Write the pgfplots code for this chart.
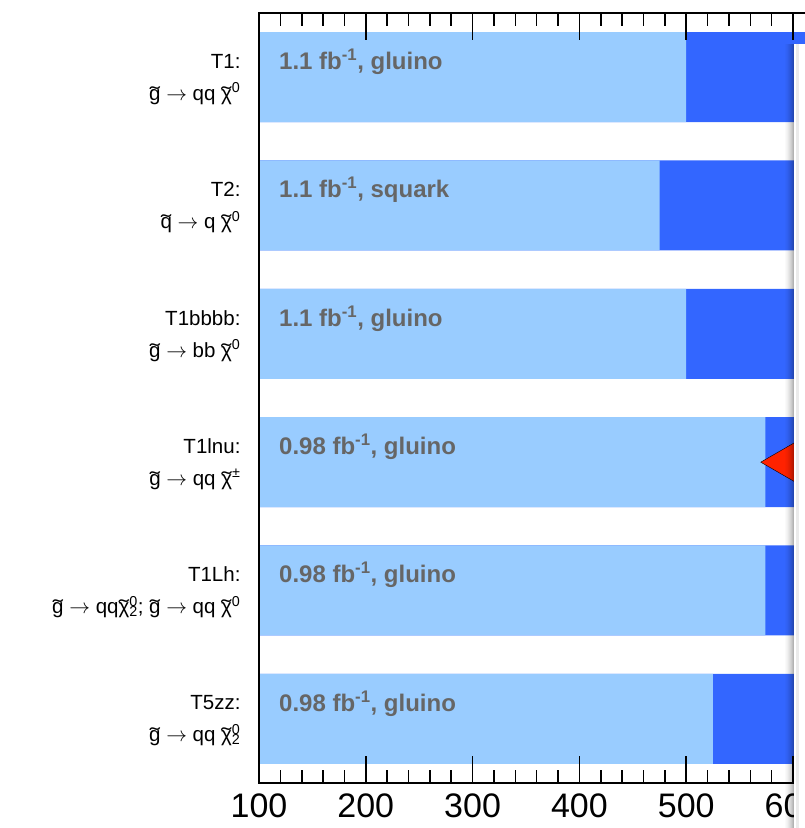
\documentclass[border=0pt]{standalone}
\usepackage{graphicx}
\usepackage{pgfplots}
\pgfplotsset{compat=1.18}
\usepackage{fontspec}
\setmainfont{Liberation Sans}
\definecolor{lightb}{HTML}{99CCFF}
\definecolor{darkb}{HTML}{3366FF}
\definecolor{redm}{HTML}{FF2200}
\definecolor{txtgray}{HTML}{666666}
\newcommand\tl[1]{{\setbox0\hbox{#1}\rlap{\hbox to\wd0{\hss\raisebox{-0.05em}{\scalebox{1.5}[1]{\char"02DC}}\hss}}\box0}}
\newcommand\supsub[2]{\rlap{\textsuperscript{#1}}\textsubscript{#2}}
\newcommand\ar{ $\rightarrow$ }
\begin{document}
\begin{tikzpicture}
\useasboundingbox (-259pt,-45pt) rectangle (546pt,783pt);
\begin{axis}[
  at={(0pt,0pt)}, anchor=south west, scale only axis,
  width=546pt, height=770pt,
  xmin=100, xmax=611.2, ymin=-0.5, ymax=5.5,
  axis on top,
  axis x line*=box, axis y line*=left,
  xbar, bar width=90pt, bar shift=0pt,
  xtick={100,200,...,600}, minor x tick num=4,
  ytick={0,...,5},
  yticklabels={
    {T5zz:\\ \tl{g}\ar qq \tl{χ}\supsub{0}{2}},
    {T1Lh:\\ \tl{g}\ar qq\tl{χ}\supsub{0}{2}; \tl{g}\ar qq \tl{χ}\textsuperscript{0}},
    {T1lnu:\\ \tl{g}\ar qq \tl{χ}\textsuperscript{±}},
    {T1bbbb:\\ \tl{g}\ar bb \tl{χ}\textsuperscript{0}},
    {T2:\\ \tl{q}\ar q \tl{χ}\textsuperscript{0}},
    {T1:\\ \tl{g}\ar qq \tl{χ}\textsuperscript{0}}},
  major tick length=27pt, minor tick length=13pt,
  tick align=inside,
  ytick style={draw=none},
  axis line style={line width=2.5pt, line cap=rect},
  every tick/.style={line width=1.6pt, black},
  /pgf/number format/assume math mode=true,
  xticklabel style={font=\fontsize{34}{34}\selectfont, yshift=-7pt},
  yticklabel style={align=right, font=\fontsize{20.5}{32}\selectfont, xshift=-15pt, yshift=-2pt},
  clip=true,
]
\addplot[draw=none, fill=darkb] coordinates {(900,0) (900,1) (900,2) (900,3) (900,4) (900,5)};
\addplot[draw=none, fill=lightb] coordinates {(525,0) (574,1) (574,2) (500,3) (475,4) (500,5)};
\addplot[only marks, mark=triangle*, mark size=28pt, mark options={rotate=90, fill=redm, draw=none}] coordinates {(596,2)};
\begin{scope}[font=\fontsize{24}{28}\selectfont\bfseries, text=txtgray]
\node[anchor=base west, inner sep=0pt] at (axis cs:118.7,5.06) {1.1 fb\textsuperscript{-1}, gluino};
\node[anchor=base west, inner sep=0pt] at (axis cs:118.7,4.06) {1.1 fb\textsuperscript{-1}, squark};
\node[anchor=base west, inner sep=0pt] at (axis cs:118.7,3.06) {1.1 fb\textsuperscript{-1}, gluino};
\node[anchor=base west, inner sep=0pt] at (axis cs:118.7,2.06) {0.98 fb\textsuperscript{-1}, gluino};
\node[anchor=base west, inner sep=0pt] at (axis cs:118.7,1.06) {0.98 fb\textsuperscript{-1}, gluino};
\node[anchor=base west, inner sep=0pt] at (axis cs:118.7,0.06) {0.98 fb\textsuperscript{-1}, gluino};
\end{scope}
\end{axis}
% overlay panel with shadow at the right edge
\foreach \i/\o in {0/0.02,1/0.04,2/0.06,3/0.09,4/0.12,5/0.16,6/0.2,7/0.25,8/0.3} {
  \fill[black, opacity=\o] (526pt+\i pt,-50pt) rectangle (527pt+\i pt,739pt);
}
\fill[white] (535pt,-50pt) rectangle (560pt,739pt);
\fill[black, opacity=0.08] (537pt,-50pt) rectangle (540pt,739pt);
\end{tikzpicture}
\end{document}
